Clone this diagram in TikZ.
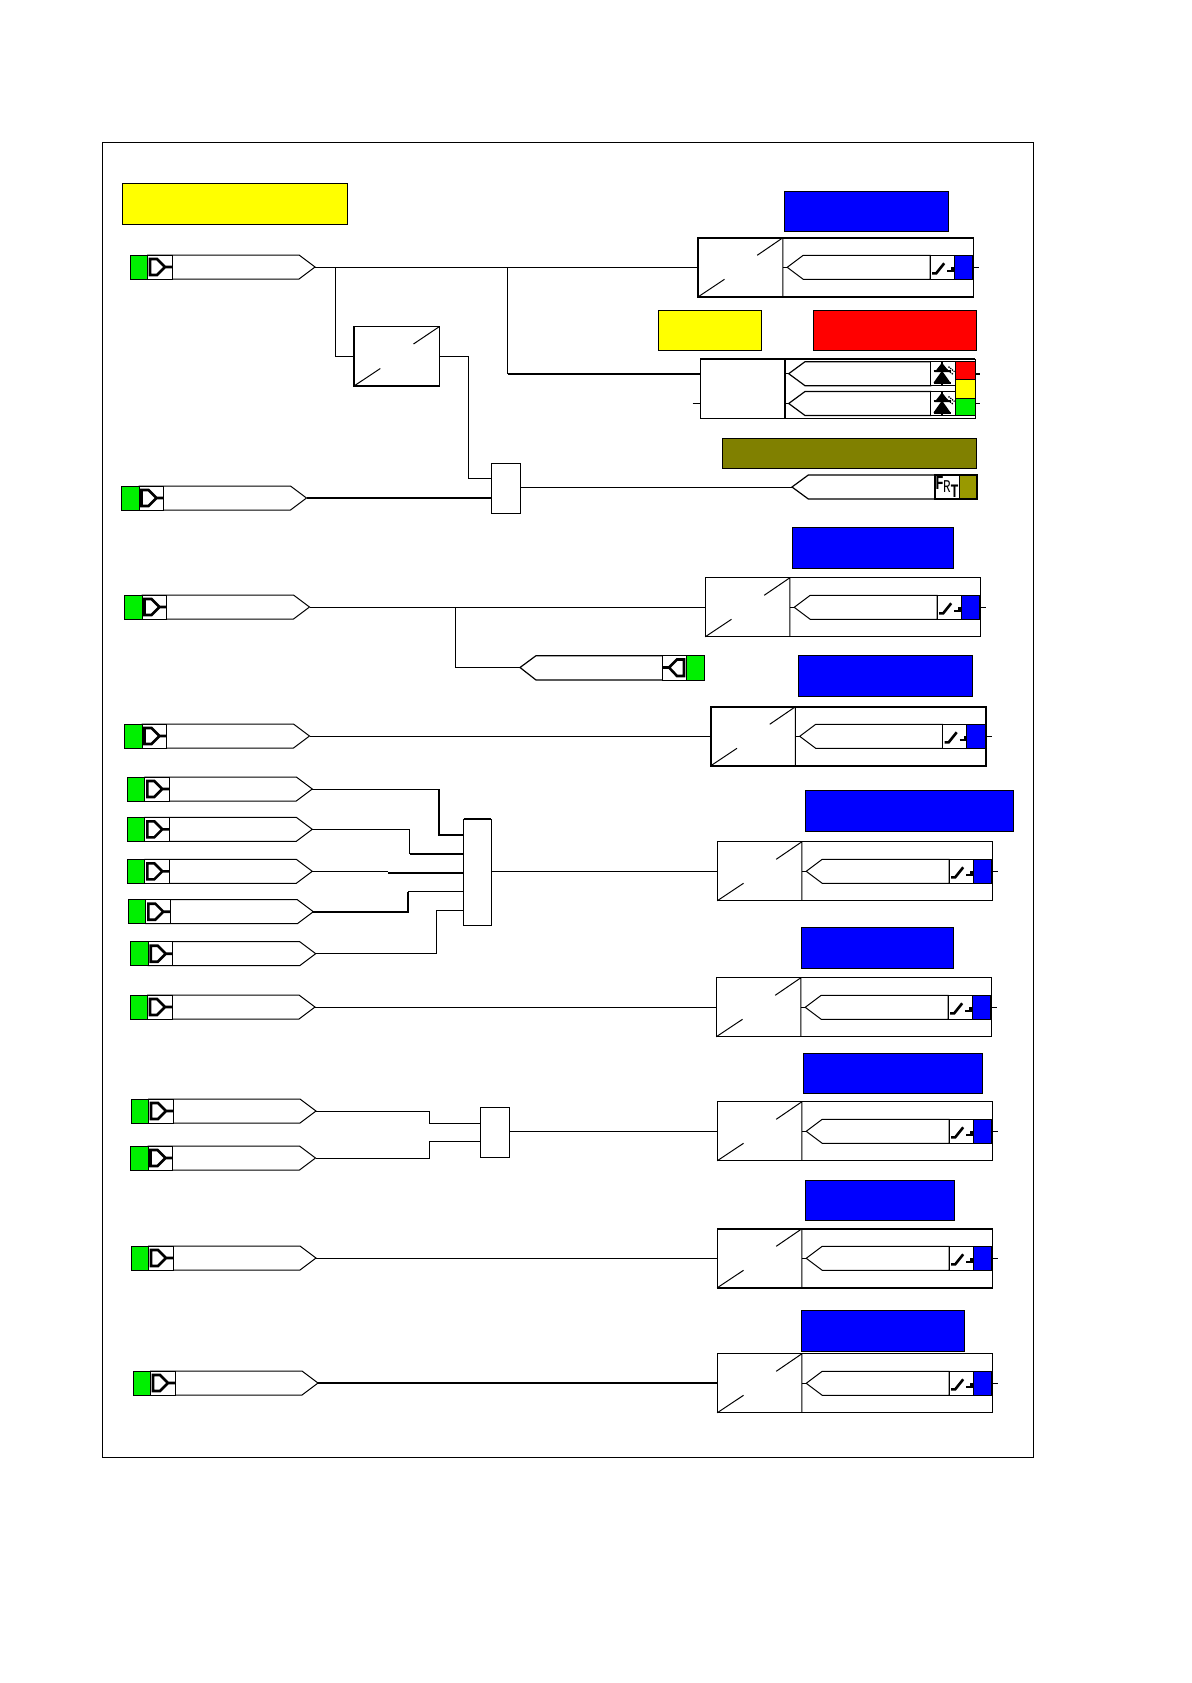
\documentclass[tikz,border=0pt]{standalone}
\usepackage{fontspec}
\setmainfont{Liberation Mono}
\definecolor{lgreen}{RGB}{0,240,0}
\definecolor{lblue}{RGB}{0,0,255}
\definecolor{lyellow}{RGB}{255,255,0}
\definecolor{lred}{RGB}{255,0,0}
\definecolor{lolive}{RGB}{128,128,0}
\definecolor{lolive2}{RGB}{153,153,0}
\tikzset{
  wire/.style={line width=1pt,black},
  hwire/.style={line width=1.7pt,black},
  shp/.style={line width=1pt,draw=black,fill=white},
  glyph/.style={line width=2.6pt,draw=black,line join=miter},
  pin/.style={inner sep=0pt,outer sep=0pt,minimum size=0pt},
  lab/.style={draw=black,line width=.8pt,inner sep=0pt,outer sep=0pt,anchor=north west},
  bx/.style={draw=black,fill=white,inner sep=0pt,outer sep=0pt,anchor=north west}
}
% coloured label rectangle: name,x1,y1,x2,y2,colour
\newcommand{\lbox}[6]{\node[lab,fill=#6,minimum width={((#4)-(#2))*1pt},minimum height={((#5)-(#3))*1pt}] (#1) at (#2,#3) {};}
% plain box: name,x1,y1,x2,y2,lw
\newcommand{\pbox}[6]{\node[bx,line width=#6pt,minimum width={((#4)-(#2))*1pt},minimum height={((#5)-(#3))*1pt}] (#1) at (#2,#3) {};}
% input pointer: name,x,y
\newcommand{\inp}[3]{%
  \begin{scope}[shift={(#2,#3)}]
    \draw[shp] (17.5,-12) -- (169,-12) -- (185,0) -- (169,12) -- (17.5,12) -- cycle;
    \draw[shp] (17.5,-12) rectangle (42,12);
    \draw[shp,fill=lgreen] (0,-12) rectangle (17.5,12);
    \draw[glyph] (20,-8) -- (27,-8) -- (35,0) -- (27,8) -- (20,8) -- cycle (35,0) -- (42,0);
    \node[pin] (#1) at (185,0) {};
  \end{scope}}
% switch glyph, origin at left edge of its cell
\newcommand{\swglyph}{%
  \draw[glyph] (2,6) -- (6,6) -- (14,-4);
  \draw[glyph] (17,3.5) -- (22.5,3.5);
  \draw[glyph] (22.5,4.5) -- (22.5,0);}
% output block: name,x,y,lw
\newcommand{\outblk}[4]{%
  \pbox{#1}{#2}{#3-29.5}{#2+275.3}{#3+29.5}{#4}
  \begin{scope}[shift={(#2,#3)}]
    \draw[wire] (84.6,-29.5) -- (84.6,29.5) (0,29.5) -- (26.3,12) (59,-12) -- (84.6,-29.5);
    \draw[wire] (84.6,0) -- (89,0);
    \draw[shp] (89,0) -- (105,-12) -- (232,-12) -- (232,12) -- (105,12) -- cycle;
    \draw[shp] (232,-12) rectangle (256,12);
    \begin{scope}[shift={(232,0)}]\swglyph\end{scope}
    \draw[shp,fill=lblue] (256,-12) rectangle (274.6,12);
    \draw[wire] (274.6,0) -- (281,0);
    \node[pin] (#1s) at (281,0) {};
  \end{scope}}
% LED glyph, origin at left edge of its cell
\newcommand{\ledglyph}{%
  \fill (3,-1.5) -- (18,-1.5) -- (10.5,-11) -- cycle;
  \fill (2,9) -- (19,9) -- (10.5,-3) -- cycle;
  \draw[line width=2pt] (2,-3) -- (19,-3) (10.5,-12) -- (10.5,12) (2,9.5) -- (19,9.5);
  \draw[line width=1.3pt,densely dotted] (13,-6) -- (22,1) (17,-7) -- (23,-2);}
\begin{document}
\begin{tikzpicture}[x=1pt,y=-1pt]
\useasboundingbox (0,0) rectangle (1191,1683);
\fill[white] (0,0) rectangle (1191,1683);
\node[bx,draw=black,line width=.8pt,minimum width=930.5pt,minimum height=1314.5pt] (frame) at (102.5,142.5) {};

% labels
\lbox{l1}{122}{183.5}{347.5}{224.5}{lyellow}
\lbox{l2}{784}{191}{948}{231}{lblue}
\lbox{l3}{658}{310}{761.8}{350.7}{lyellow}
\lbox{l4}{813}{310}{976.5}{350.7}{lred}
\lbox{l5}{722.5}{438.7}{976.5}{468.3}{lolive}
\lbox{l6}{792.5}{527}{953}{568}{lblue}
\lbox{l7}{798}{655.5}{972}{696.5}{lblue}
\lbox{l8}{805.5}{790}{1013}{831}{lblue}
\lbox{l9}{801.5}{927.5}{953}{968.5}{lblue}
\lbox{l10}{803.5}{1053}{982}{1093.5}{lblue}
\lbox{l11}{805}{1180.5}{954.5}{1220.5}{lblue}
\lbox{l12}{801.5}{1310}{964}{1351}{lblue}

\inp{ra}{130}{267}
\inp{rb}{121.5}{498}
\inp{rc}{124.5}{607}
\inp{rd}{124.5}{736}
\inp{re1}{127.3}{789}
\inp{re2}{127.3}{829.3}
\inp{re3}{127.3}{871.3}
\inp{re4}{128.3}{911.7}
\inp{re5}{130.7}{953.7}
\inp{rf}{130}{1007}
\inp{rg1}{131}{1111}
\inp{rg2}{130.5}{1158}
\inp{rh}{131}{1258}
\inp{ri}{133}{1383}

\outblk{ba}{698.2}{267.3}{1.6}
\outblk{bc}{705.2}{607.3}{1}
\outblk{bd}{710.7}{736.3}{1.6}
\outblk{be}{717.2}{871.3}{1}
\outblk{bf}{716.2}{1007.3}{1}
\outblk{bg}{717.2}{1131.3}{1}
\outblk{bh}{717.2}{1258.3}{1.4}
\outblk{bi}{717.2}{1383.3}{1}

% converter in the middle
\pbox{conv}{354}{326.5}{439.5}{386}{1.4}
\draw[wire] (354,386) -- (380.3,368.5) (413.5,344) -- (439.5,326.5);

% LED block
\pbox{led}{700}{359}{975}{418.3}{1}
\draw[line width=1.6pt] (784.8,359) -- (784.8,418.3);
\draw[line width=1.4pt] (700,359) -- (975,359);
\foreach \yy in {373.7,403.5}{
  \draw[wire] (784.8,\yy) -- (788.7,\yy);
  \draw[shp,line width=1.2pt] (788.7,\yy) -- (805,\yy-12) -- (930.7,\yy-12) -- (930.7,\yy+12) -- (805,\yy+12) -- cycle;
  \draw[shp] (930.7,\yy-12) rectangle (955.7,\yy+12);
  \begin{scope}[shift={(931.5,\yy)}]\ledglyph\end{scope}
}
\draw[shp,fill=lred] (955.7,361.7) rectangle (975,379.7);
\draw[shp,fill=lyellow] (955.7,379.7) rectangle (975,398);
\draw[shp,fill=lgreen] (955.7,398) rectangle (975,415.7);
\node[pin] (led1) at (700,373.7) {};
\node[pin] (led2) at (692.7,403.5) {};
\draw[wire] (led2) -- (700,403.5);
\node[pin] (led3) at (980,373.7) {};
\node[pin] (led4) at (980,403.5) {};
\draw[hwire] (975,373.7) -- (led3);
\draw[wire] (975,403.5) -- (led4);

% FRT pointer
\draw[shp,line width=1.2pt] (792,487) -- (808.3,475) -- (935,475) -- (935,499) -- (808.3,499) -- cycle;
\draw[shp,line width=1.2pt] (935,475) rectangle (959.3,499);
\draw[shp,fill=lolive2,line width=1.6pt] (959.3,475) rectangle (977,499);
\node[pin] (frt) at (792,487) {};
\node[inner sep=0pt,xscale=.7,font=\bfseries\fontsize{20}{20}\selectfont] (tf) at (939.5,482.5) {F};
\node[inner sep=0pt,xscale=.7,font=\fontsize{18}{18}\selectfont] (tr) at (947,486.5) {R};
\node[inner sep=0pt,xscale=.7,font=\bfseries\fontsize{19}{19}\selectfont] (tt) at (954.5,491.5) {T};

% feedback pointer, pointing left
\draw[shp,line width=1.2pt] (520,667.5) -- (536,655.7) -- (662.7,655.7) -- (662.7,680) -- (536,680) -- cycle;
\draw[shp] (662.7,655.7) rectangle (686.7,680);
\draw[shp,fill=lgreen] (686.7,655.7) rectangle (704.3,680);
\draw[glyph] (684,659.5) -- (677,659.5) -- (669,667.5) -- (677,676) -- (684,676) -- cycle (669,667.5) -- (662.7,667.5);
\node[pin] (fb) at (520,667.5) {};

% mux boxes
\pbox{m1}{491.5}{463}{520.5}{513}{1}
\pbox{m2}{463.7}{819}{491.3}{925.3}{1}
\pbox{m3}{480.5}{1107}{509}{1157}{1}
\draw[line width=1.6pt] (463.7,819) -- (491.3,819);

% junction points
\coordinate (j1) at (335.7,267.3);
\coordinate (j2) at (507.5,267.3);
\coordinate (j3) at (468,478.5);
\coordinate (j4) at (455,607.3);

% connectors
\draw[wire] (ra |- ba.west) -- (ba.west);
\draw[wire] (j1) |- (conv.west);
\draw[wire] (j2) -- (507.5,373.7);
\draw[hwire] (507.5,373.7) -- (led1);
\draw[wire] (conv.east) -| (j3) -- (j3 -| m1.west);
\draw[hwire] (rb) -- (rb -| m1.west);
\draw[wire] (m1.east |- frt) -- (frt);
\draw[wire] (rc |- bc.west) -- (bc.west);
\draw[wire] (j4) -- (455,667.5);
\draw[hwire] (455,667.5) -- (fb);
\draw[wire] (rd |- bd.west) -- (bd.west);

\draw[wire] (re1) -- (439,789);
\draw[hwire] (439,789) -- (439,835) -- (463.7,835);
\draw[wire] (re2) -- (409.7,829.3) -- (409.7,854);
\draw[hwire] (409.7,854) -- (463.7,854);
\draw[wire] (re3) -- (388.3,871.3);
\draw[hwire] (388.3,873) -- (463.7,873);
\draw[hwire] (re4) -- (408,911.7) -- (408,891.7);
\draw[wire] (408,891.7) -- (463.7,891.7);
\draw[wire] (re5) -- (436.3,953.7) -- (436.3,910.3) -- (463.7,910.3);
\draw[wire] (m2.east |- be.west) -- (be.west);

\draw[wire] (rf |- bf.west) -- (bf.west);
\draw[wire] (rg1) -- (429,1111) -- (429,1123.5) -- (480.5,1123.5);
\draw[wire] (rg2) -- (429,1158) -- (429,1141.5) -- (480.5,1141.5);
\draw[wire] (m3.east |- bg.west) -- (bg.west);
\draw[wire] (rh |- bh.west) -- (bh.west);
\draw[hwire] (ri |- bi.west) -- (bi.west);
\end{tikzpicture}
\end{document}
